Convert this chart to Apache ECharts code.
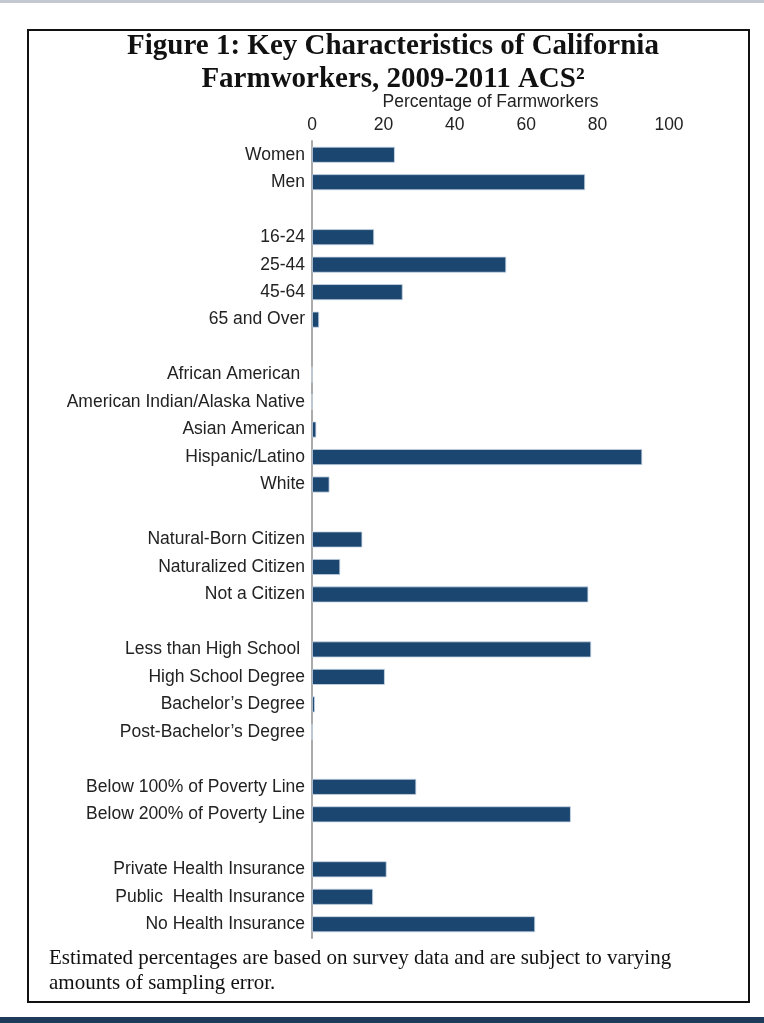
<!DOCTYPE html>
<html>
<head>
<meta charset="utf-8">
<script src="https://cdn.jsdelivr.net/npm/echarts@6/dist/echarts.min.js"></script>
<style>html,body{margin:0;padding:0;background:#fff}#c{width:764px;height:1023px}</style>
</head>
<body>
<div id="c"></div>
<script>
const categories = [
  'Women','Men','',
  '16-24','25-44','45-64','65 and Over',' ',
  'African American ','American Indian/Alaska Native','Asian American','Hispanic/Latino','White','  ',
  'Natural-Born Citizen','Naturalized Citizen','Not a Citizen','   ',
  'Less than High School ','High School Degree','Bachelor\u2019s Degree','Post-Bachelor\u2019s Degree','    ',
  'Below 100% of Poverty Line','Below 200% of Poverty Line','     ',
  'Private Health Insurance','Public  Health Insurance','No Health Insurance'
];
const values = [
  23.2, 76.5, null,
  17.4, 54.4, 25.4, 2.0, null,
  0, 0, 1.2, 92.5, 4.9, null,
  14.1, 7.9, 77.4, null,
  78.2, 20.4, 0.8, 0, null,
  29.2, 72.5, null,
  20.9, 17.1, 62.5
];
const xTicks = [0, 20, 40, 60, 80, 100];
const titleLines = ['Figure 1: Key Characteristics of California', 'Farmworkers, 2009-2011 ACS\u00B2'];
const footnote = ['Estimated percentages are based on survey data and are subject to varying', 'amounts of sampling error.'];

const chart = echarts.init(document.getElementById('c'));
chart.setOption({
  animation: false,
  backgroundColor: '#fff',
  title: {
    text: titleLines.join('\n'),
    left: 388, textAlign: 'center', top: 25,
    textStyle: { fontFamily: 'Liberation Serif', fontWeight: 'bold', fontSize: 29, lineHeight: 33, color: '#111' }
  },
  grid: { left: 312, right: 95, top: 141, height: 797 },
  xAxis: {
    type: 'value', position: 'top', min: 0, max: 100, interval: 20,
    name: 'Percentage of Farmworkers', nameLocation: 'middle', nameGap: 27,
    nameTextStyle: { fontFamily: 'Liberation Sans', fontSize: 17.5, color: '#222' },
    axisLine: { show: false }, axisTick: { show: false }, splitLine: { show: false },
    axisLabel: { fontFamily: 'Liberation Sans', fontSize: 17.5, color: '#222', margin: 7,
      formatter: v => xTicks.includes(v) ? String(v) : '' }
  },
  yAxis: {
    type: 'category', data: categories, inverse: true,
    axisLine: { show: true, lineStyle: { color: '#aaa', width: 2 } },
    axisTick: { show: false },
    axisLabel: { fontFamily: 'Liberation Sans', fontSize: 17.5, color: '#222', margin: 7, interval: 0 }
  },
  series: [{
    type: 'bar', data: values, barWidth: 16,
    itemStyle: { color: '#1b4670', borderColor: '#c9d7e6', borderWidth: 0.8 }
  }],
  graphic: [
    { type: 'rect', shape: { x: 0, y: 0, width: 764, height: 3 }, style: { fill: '#c4c8d0' } },
    { type: 'rect', shape: { x: 28, y: 30, width: 721, height: 972 }, style: { fill: 'none', stroke: '#111', lineWidth: 2 } },
    { type: 'text', left: 49, top: 946, style: { text: footnote.join('\n'), font: '21px "Liberation Serif"', lineHeight: 25, fill: '#111' } },
    { type: 'rect', shape: { x: 0, y: 1017, width: 764, height: 6 }, style: { fill: '#1f3b5c' } }
  ]
});
</script>
</body>
</html>
